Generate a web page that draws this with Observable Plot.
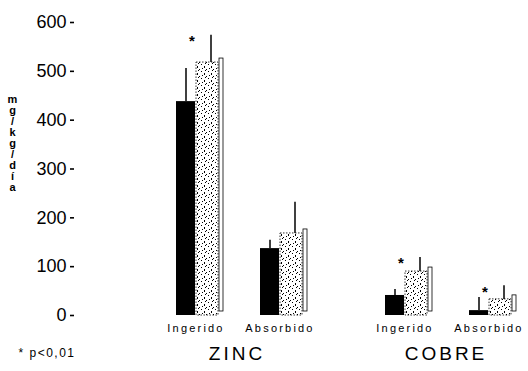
<!DOCTYPE html>
<html>
<head>
<meta charset="utf-8">
<script src="https://cdn.jsdelivr.net/npm/d3@7"></script>
<script src="https://cdn.jsdelivr.net/npm/@observablehq/plot@0.6"></script>
<style>
  html, body { margin: 0; padding: 0; background: #fff; }
  #chart svg { display: block; }
  g[aria-label="x-axis tick label"] text { letter-spacing: 2.2px; }
  g[aria-label="fx-axis tick label"] text { letter-spacing: 3px; }
  .foot text { letter-spacing: 1.5px; }
</style>
</head>
<body>
<div id="chart"></div>
<script>
// ---- data ----
const groups = ["ZINC", "ZINC", "COBRE", "COBRE"];
const measures = ["Ingerido", "Absorbido", "Ingerido", "Absorbido"];
const blackMean = [438, 137, 41, 10];
const blackErrTop = [506, 154, 53, 37];
const stippleMean = [518, 168, 90, 33];
const stippleErrTop = [574, 232, 119, 61];
const significant = [true, false, true, true];
const yTicks = [0, 100, 200, 300, 400, 500, 600];
const groupOrder = ["ZINC", "COBRE"];
const measureOrder = ["Ingerido", "Absorbido"];
const yLabel = "mg/kg/día";
const footnote = "* p<0,01";

const rows = groups.map((g, i) => ({
  group: g,
  measure: measures[i],
  a: blackMean[i],
  aErr: blackErrTop[i],
  b: stippleMean[i],
  bErr: stippleErrTop[i],
  sig: significant[i]
}));

const common = {fx: "group", x: "measure"};

const svg = Plot.plot({
  width: 528,
  height: 371,
  marginLeft: 72,
  marginRight: 0,
  marginTop: 22,
  marginBottom: 56,
  style: {fontFamily: "'Liberation Sans', Arial, sans-serif", background: "white", color: "black"},
  fx: {domain: groupOrder, paddingInner: 0.2857, paddingOuter: 0.2286, align: 0.969},
  x: {domain: measureOrder, paddingInner: 0.435, paddingOuter: 0.1},
  y: {domain: [0, 600]},
  marks: [
    // 3D side of stippled bars
    Plot.barY(rows, {...common, y: "b", fill: "white", stroke: "black", strokeWidth: 0.8, insetLeft: 43, insetRight: 0, dy: -4}),
    // stippled bars
    Plot.barY(rows, {...common, y: "b", fill: "url(#stip)", stroke: "black", strokeWidth: 0.8, strokeDasharray: "1.5,1.5", insetLeft: 20, insetRight: 5}),
    // black bars
    Plot.barY(rows, {...common, y: "a", fill: "black", insetRight: 28}),
    // error bars
    Plot.ruleX(rows, {...common, y1: "a", y2: "aErr", dx: -14, stroke: "black", strokeWidth: 1.5}),
    Plot.ruleX(rows, {...common, y1: "b", y2: "bErr", dx: 11, stroke: "black", strokeWidth: 1.5}),
    // significance stars
    Plot.text(rows.filter(d => d.sig), {...common, y: "bErr", text: () => "*", dx: -8, dy: 6, fontSize: 15, fontWeight: "bold"}),
    // axes (y axis moved from the first facet's edge to the plot's left side)
    Plot.axisY({ticks: yTicks, tickSize: 4, tickPadding: 4, fontSize: 18, label: null, strokeWidth: 1.6, dx: -93}),
    Plot.axisX({tickSize: 0, tickPadding: 9, fontSize: 11, label: null, dx: -4}),
    Plot.axisFx({anchor: "bottom", tickSize: 0, tickPadding: 31, fontSize: 19, label: null, dx: -5}),
    // vertical y label
    Plot.text([yLabel], {facet: "super", frameAnchor: "left", textAnchor: "middle", text: d => d.split("").join("\n"), dx: -155, dy: -26, fontSize: 11, fontWeight: "bold", lineHeight: 1.0}),
    // footnote
    Plot.text([footnote], {facet: "super", frameAnchor: "bottom-left", textAnchor: "start", text: d => d, dx: -149, dy: 41, fontSize: 12, className: "foot"})
  ]
});

// stipple pattern definition
const defs = d3.select(svg).insert("defs", ":first-child");
const pat = defs.append("pattern").attr("id", "stip").attr("patternUnits", "userSpaceOnUse")
  .attr("width", 7).attr("height", 7);
pat.append("rect").attr("width", 7).attr("height", 7).attr("fill", "white");
[[1, 1, 1, 1], [4, 3, 1, 2], [2, 5, 1, 1], [6, 6, 1, 1], [5, 0, 1, 1]].forEach(([x, y, w, h]) =>
  pat.append("rect").attr("x", x).attr("y", y).attr("width", w).attr("height", h).attr("fill", "black"));

document.getElementById("chart").appendChild(svg);
</script>
</body>
</html>
